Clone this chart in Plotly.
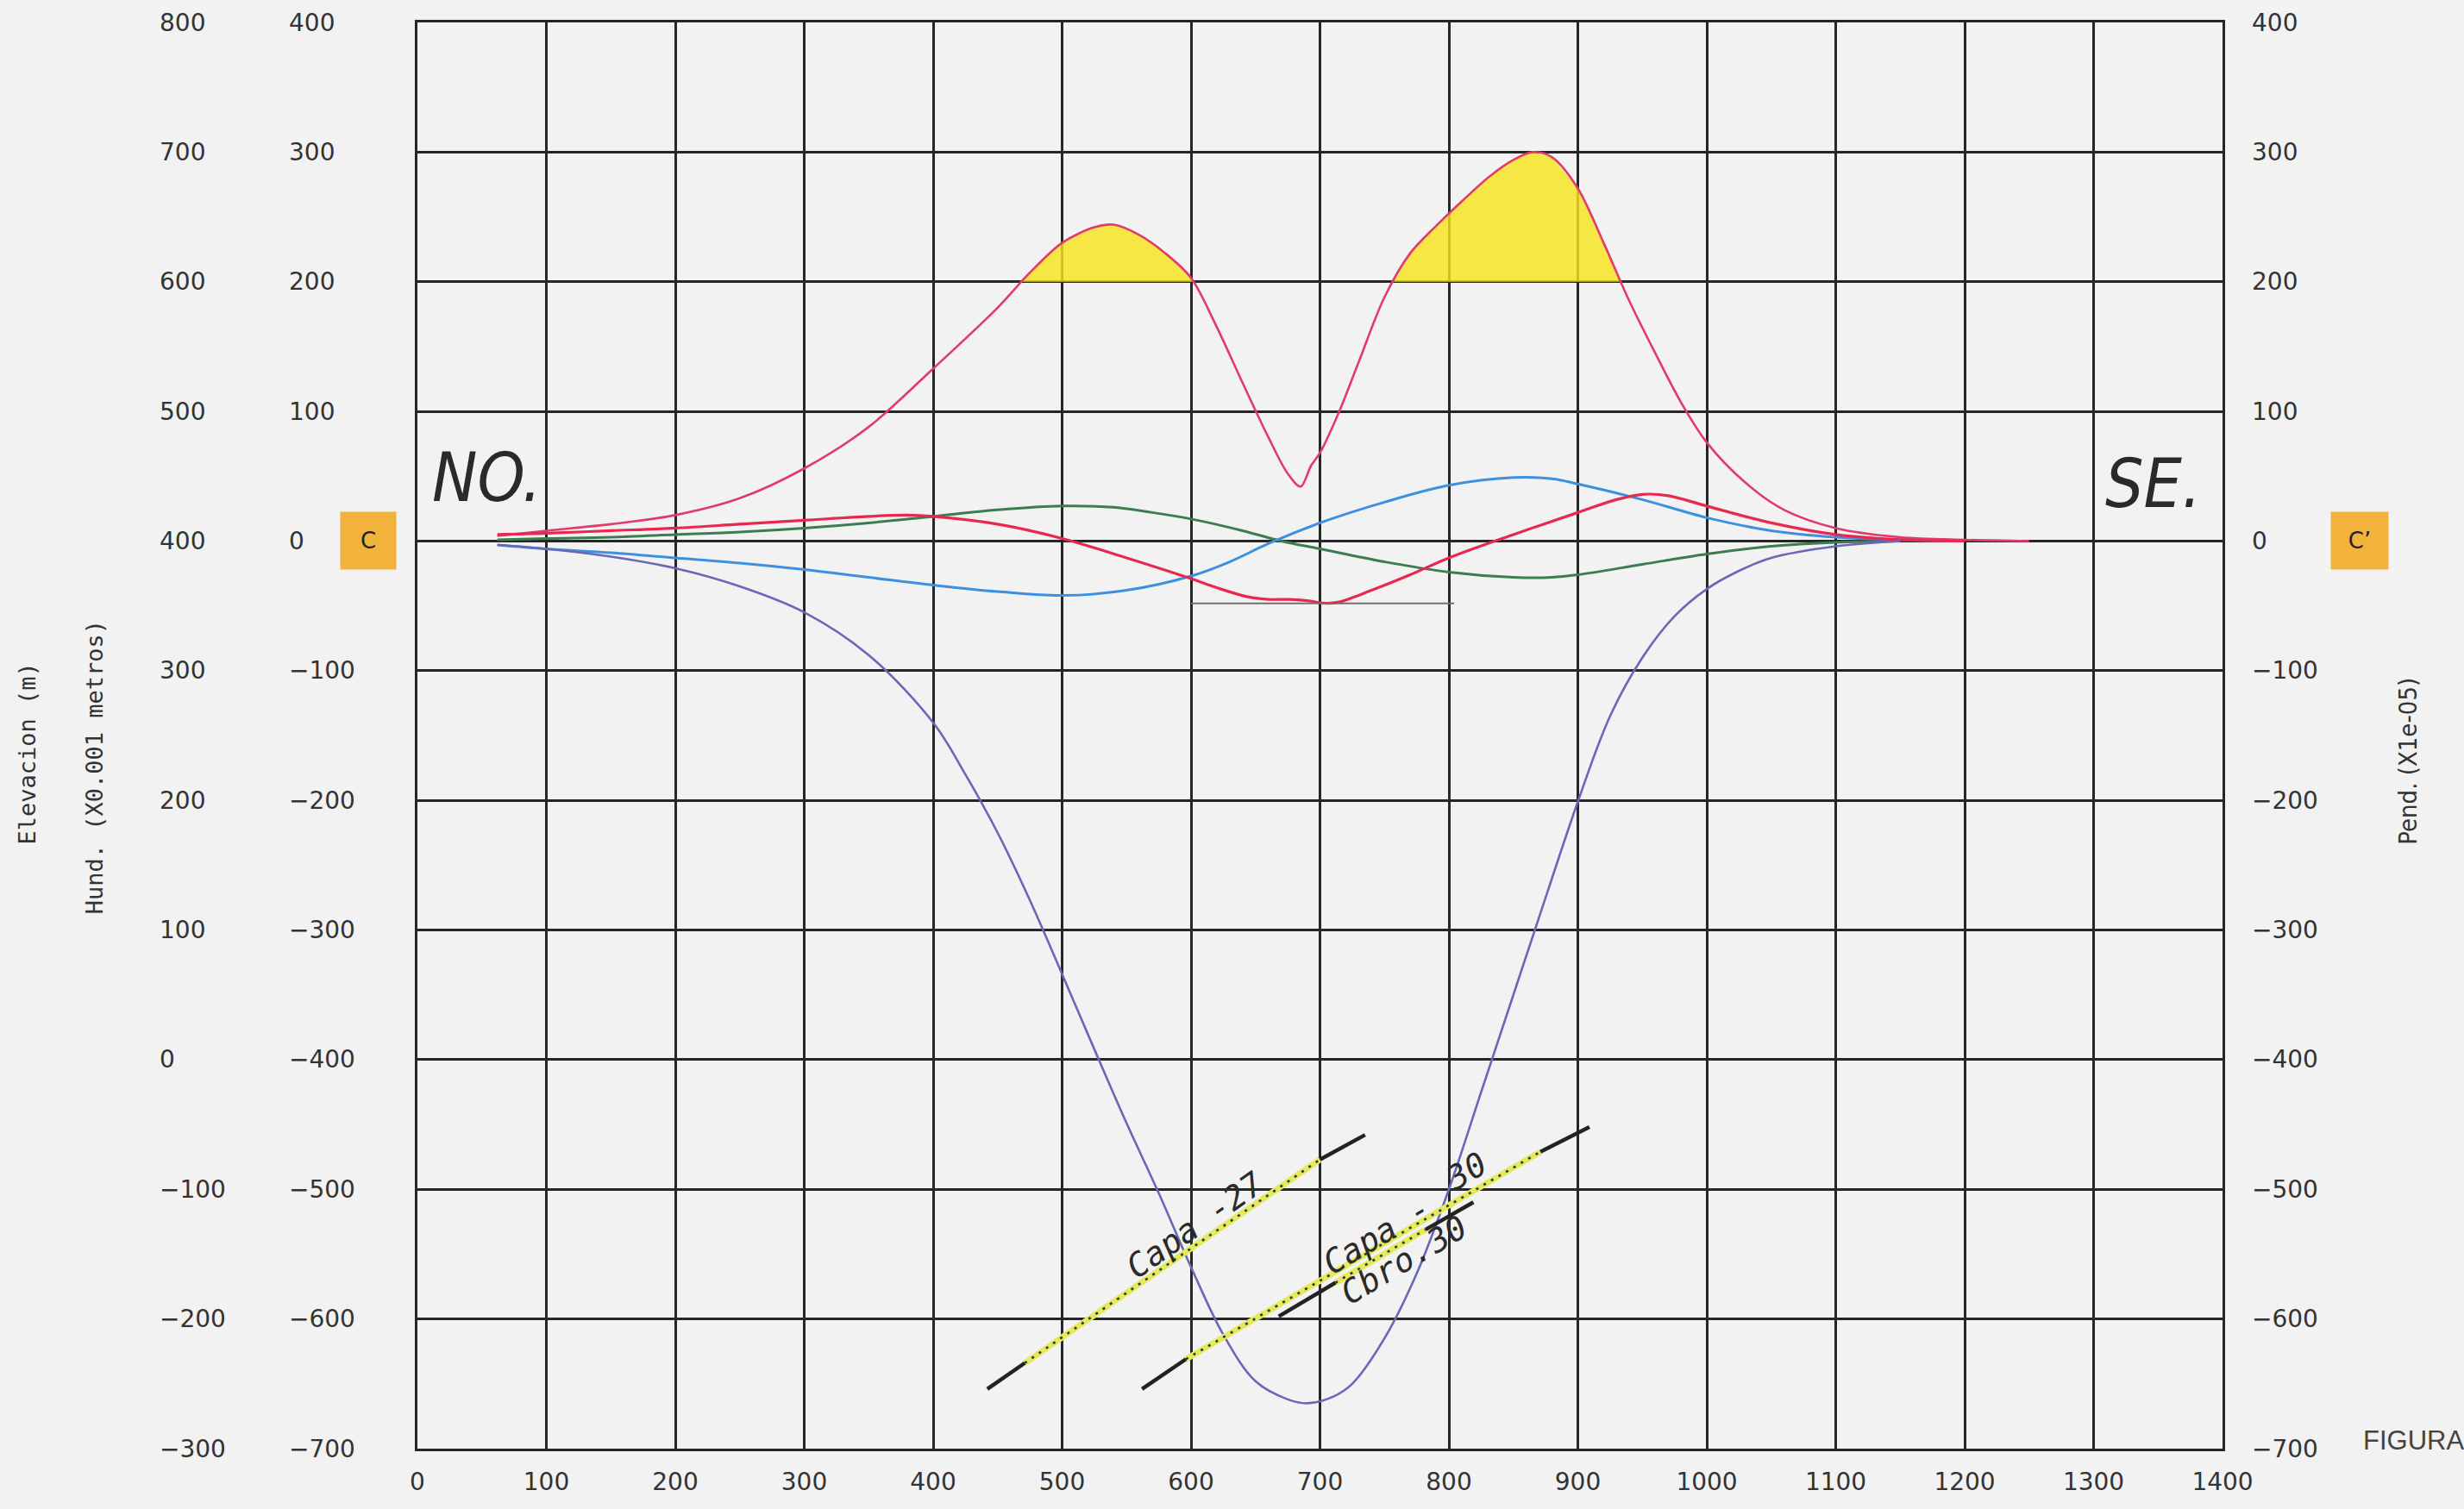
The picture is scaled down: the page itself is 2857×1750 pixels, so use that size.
import numpy as np
import plotly.graph_objects as go

# ---------------- data ----------------
# Upper crimson curve (slope, right axis "Pend.")
pend_x = [62, 100, 150, 200, 250, 300, 350, 400, 450, 475, 500, 525, 540, 560, 580, 600, 620, 640,
          660, 675, 685, 693, 700, 715, 730, 750, 770, 790, 810, 830, 850, 865, 880, 900, 920, 940,
          960, 980, 1000, 1030, 1060, 1100, 1150, 1200, 1250]
pend_y = [4, 8, 13, 20, 33, 56, 88, 133, 180, 207, 230, 242, 244, 236, 222, 203, 165, 122,
          80, 52, 42, 58, 68, 100, 138, 188, 222, 243, 262, 280, 294, 300, 296, 272, 230, 185,
          145, 107, 76, 45, 24, 10, 3, 1, 0]

# Blue curve
blue_x = [62, 100, 150, 200, 250, 300, 350, 400, 450, 500, 550, 600, 630, 660, 700, 750, 800, 850,
          880, 900, 950, 1000, 1050, 1100, 1150, 1200]
blue_y = [-3, -6, -9, -13, -17, -22, -28, -34, -39, -42, -38, -27, -16, -2, 14, 30, 43, 49,
          48, 44, 32, 18, 8, 3, 1, 0]

# Green curve
green_x = [62, 100, 150, 200, 250, 300, 350, 400, 450, 500, 540, 570, 600, 640, 670, 700, 750, 800,
           850, 880, 900, 950, 1000, 1050, 1100, 1150]
green_y = [1, 2, 3, 5, 7, 10, 14, 19, 24, 27, 26, 22, 17, 8, 0, -6, -16, -24,
           -28, -28, -26, -18, -10, -4, -1, 0]

# Lower red curve
red_x = [62, 100, 150, 200, 250, 300, 350, 380, 400, 450, 500, 550, 600, 620, 644, 660, 676, 690,
         705, 715, 740, 770, 800, 850, 900, 930, 950, 970, 1000, 1050, 1100, 1150, 1200]
red_y = [5, 6, 8, 10, 13, 16, 19, 20, 19, 13, 2, -13, -29, -36, -43, -45, -45, -46,
         -48, -47, -38, -26, -13, 5, 22, 32, 36, 35, 27, 14, 5, 1, 0]

# Subsidence curve (Hund., X0.001 m)
hund_x = [62, 100, 150, 200, 250, 300, 350, 400, 425, 450, 475, 500, 525, 550, 575, 600, 625, 650,
          675, 690, 710, 725, 750, 775, 800, 825, 850, 875, 900, 925, 950, 975, 1000, 1025, 1050, 1100, 1150]
hund_y = [-3, -6, -12, -21, -35, -55, -88, -140, -180, -225, -277, -334, -392, -449, -503, -560, -612, -648,
          -662, -665, -660, -650, -615, -565, -500, -425, -350, -275, -201, -135, -90, -58, -37, -23, -13, -4, 0]

# Highlight threshold for the yellow areas
highlight_level = 200

# Gray reference segment
ref_seg_x = [600, 804]
ref_seg_y = [-48, -48]

# Seam lines: (x, y) of black end pieces and dotted middle
capa27_x = [442, 471, 700, 735]
capa27_y = [-654, -634, -477, -458]
capa30_x = [562, 596, 871, 909]
capa30_y = [-654, -631, -471, -452]
cbro30_x = [668, 712, 782, 819]
cbro30_y = [-598, -572, -531, -510]

# Axis tick labels
x_ticks = list(range(0, 1401, 100))
hund_ticks = list(range(-700, 401, 100))
elev_ticks = list(range(-300, 801, 100))
pend_ticks = list(range(-700, 401, 100))

# ---------------- styling ----------------
BG = "#f2f2f2"
GRID = "#262626"
TICKFONT = dict(family="DejaVu Sans", size=28, color="#333333")
HAND = "Liberation Sans Narrow, DejaVu Sans Condensed, Roboto Condensed, Liberation Sans, sans-serif"
MONO = "DejaVu Sans Mono, monospace"


def minus(v):
    return str(v).replace("-", "\u2212")


fig = go.Figure()

# yellow highlight (upper curve above 200)
fx, fy = [], []
for i in range(len(pend_x)):
    if i > 0:
        a, b = pend_y[i - 1] - highlight_level, pend_y[i] - highlight_level
        if a * b < 0:
            t = a / (a - b)
            fx.append(pend_x[i - 1] + t * (pend_x[i] - pend_x[i - 1]))
            fy.append(highlight_level)
    fx.append(pend_x[i])
    fy.append(max(pend_y[i], highlight_level))
fig.add_trace(go.Scatter(x=fx, y=[highlight_level] * len(fx), mode="lines",
                         line=dict(width=0, color="rgba(0,0,0,0)"), hoverinfo="skip", showlegend=False))
fig.add_trace(go.Scatter(x=fx, y=fy, mode="lines", fill="tonexty",
                         fillcolor="rgba(246,228,30,0.82)", line=dict(width=0, color="rgba(0,0,0,0)"),
                         hoverinfo="skip", showlegend=False))

# curves
fig.add_trace(go.Scatter(x=pend_x, y=pend_y, mode="lines",
                         line=dict(color="#e23a6c", width=2.6, shape="spline", smoothing=0.9), showlegend=False))
fig.add_trace(go.Scatter(x=green_x, y=green_y, mode="lines",
                         line=dict(color="#3c7c52", width=3, shape="spline", smoothing=1.0), showlegend=False))
fig.add_trace(go.Scatter(x=blue_x, y=blue_y, mode="lines",
                         line=dict(color="#3d8fdf", width=3, shape="spline", smoothing=1.0), showlegend=False))
fig.add_trace(go.Scatter(x=red_x, y=red_y, mode="lines",
                         line=dict(color="#e8284f", width=3.2, shape="spline", smoothing=1.0), showlegend=False))
fig.add_trace(go.Scatter(x=hund_x, y=hund_y, mode="lines",
                         line=dict(color="#6a67b6", width=2.6, shape="spline", smoothing=1.0), showlegend=False))

# gray reference segment
fig.add_trace(go.Scatter(x=ref_seg_x, y=ref_seg_y, mode="lines", line=dict(color="#707070", width=2),
                         showlegend=False))

# seam lines
for sx, sy in [(capa27_x, capa27_y), (capa30_x, capa30_y), (cbro30_x, cbro30_y)]:
    fig.add_trace(go.Scatter(x=sx[1:3], y=sy[1:3], mode="lines", line=dict(color="#e4ea5c", width=7),
                             showlegend=False))
    fig.add_trace(go.Scatter(x=sx[1:3], y=sy[1:3], mode="lines",
                             line=dict(color="#333333", width=2.6, dash="3px,7px"), showlegend=False))
    fig.add_trace(go.Scatter(x=sx[0:2], y=sy[0:2], mode="lines", line=dict(color="#222222", width=4.5),
                             showlegend=False))
    fig.add_trace(go.Scatter(x=sx[2:4], y=sy[2:4], mode="lines", line=dict(color="#222222", width=4.5),
                             showlegend=False))

axis_common = dict(showgrid=True, gridcolor=GRID, gridwidth=2.5, showline=True, linecolor=GRID,
                   linewidth=2.5, mirror=True, zeroline=False, ticks="")

fig.update_layout(
    width=2857, height=1750,
    margin=dict(l=484, r=280, t=26, b=70),
    paper_bgcolor=BG, plot_bgcolor=BG,
    showlegend=False,
    xaxis=dict(range=[0, 1400], tickvals=x_ticks, ticktext=[str(v) for v in x_ticks],
               tickfont=TICKFONT, ticklabelstandoff=12, **axis_common),
    yaxis=dict(range=[-700, 400], tickvals=hund_ticks, showticklabels=False, **axis_common),
    yaxis2=dict(range=[-300, 800], overlaying="y", side="left", showgrid=False, showticklabels=False,
                zeroline=False, showline=False),
    yaxis3=dict(range=[-700, 400], overlaying="y", side="right", showgrid=False, showticklabels=False,
                zeroline=False, showline=False),
)

ann = []
for v in elev_ticks:
    ann.append(dict(x=-0.1438, xref="paper", y=v, yref="y2", text=minus(v), showarrow=False,
                    xanchor="left", yanchor="middle", font=TICKFONT))
for v in hund_ticks:
    ann.append(dict(x=-0.0721, xref="paper", y=v, yref="y", text=minus(v), showarrow=False,
                    xanchor="left", yanchor="middle", font=TICKFONT))
for v in pend_ticks:
    ann.append(dict(x=1.0153, xref="paper", y=v, yref="y3", text=minus(v), showarrow=False,
                    xanchor="left", yanchor="middle", font=TICKFONT))

# axis titles
ann += [
    dict(x=-0.2164, xref="paper", y=0.487, yref="paper", text="Elevacion (m)", textangle=-90,
         xanchor="center", yanchor="middle", showarrow=False, font=dict(family=MONO, size=27, color="#333")),
    dict(x=-0.1792, xref="paper", y=0.478, yref="paper", text="Hund. (X0.001 metros)", textangle=-90,
         xanchor="center", yanchor="middle", showarrow=False, font=dict(family=MONO, size=27, color="#333")),
    dict(x=1.1027, xref="paper", y=0.482, yref="paper", text="Pend. (X1e-05)", textangle=-90,
         xanchor="center", yanchor="middle", showarrow=False,
         font=dict(family="Liberation Sans Narrow, DejaVu Sans Condensed, Liberation Sans", size=29, color="#333")),
    dict(x=1.0769, xref="paper", y=0.006, yref="paper", text="FIGURA", xanchor="left", yanchor="middle",
         showarrow=False, font=dict(family="Liberation Sans", size=31, color="#444")),
]

# section end markers and direction labels
ann += [
    dict(x=-0.0272, xref="paper", y=0, yref="y", text="C", showarrow=False, width=62, height=64,
         xanchor="center", yanchor="middle", bgcolor="#f2b33c",
         font=dict(family="DejaVu Sans", size=26, color="#222")),
    dict(x=1.0760, xref="paper", y=0, yref="y3", text="C\u2019", showarrow=False, width=64, height=64,
         xanchor="center", yanchor="middle", bgcolor="#f2b33c",
         font=dict(family="DejaVu Sans", size=26, color="#222")),
    dict(x=54, y=49, xref="x", yref="y", text="NO.", showarrow=False, xanchor="center", yanchor="middle",
         font=dict(family=HAND, size=78, color="#2a2a2a", style="italic")),
    dict(x=1346, y=44, xref="x", yref="y", text="SE.", showarrow=False, xanchor="center", yanchor="middle",
         font=dict(family=HAND, size=78, color="#2a2a2a", style="italic")),
]

# seam labels
seam_font = dict(family=MONO, size=38, color="#2a2a2a", style="italic")
ann += [
    dict(x=603, y=-528, xref="x", yref="y", text="Capa -27", textangle=-35, showarrow=False, font=seam_font),
    dict(x=744, y=-536, xref="x", yref="y", text="Capa -", textangle=-31, showarrow=False, font=seam_font),
    dict(x=814, y=-486, xref="x", yref="y", text="30", textangle=-31, showarrow=False, font=seam_font),
    dict(x=751, y=-563, xref="x", yref="y", text="Cbro.", textangle=-31, showarrow=False, font=seam_font),
    dict(x=798, y=-535, xref="x", yref="y", text="30", textangle=-31, showarrow=False, font=seam_font),
]

fig.update_layout(annotations=ann)
fig.write_html("out.html", config={"displayModeBar": False},
               post_script="document.body.style.margin='0';")
